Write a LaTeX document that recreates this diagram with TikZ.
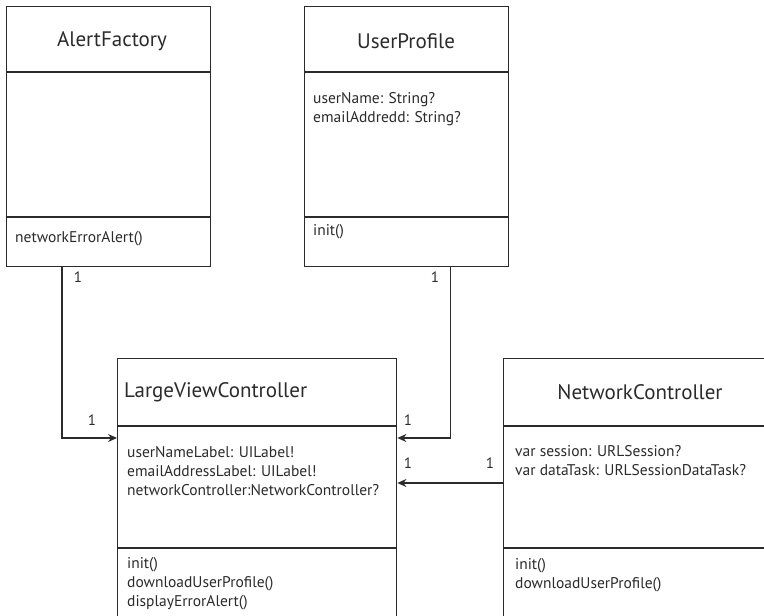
\documentclass[tikz,border=0pt]{standalone}
\usepackage{fontspec}
\setmainfont{PT Sans}
\usetikzlibrary{arrows.meta}
\definecolor{ink}{HTML}{2B2B2B}
\tikzset{
  classbox/.style={draw=ink, line width=1.4pt, rectangle, inner sep=0pt, anchor=north west},
  divider/.style={draw=ink, line width=1.4pt},
  titletext/.style={text=ink, inner sep=0pt, font=\fontsize{21}{24}\selectfont},
  membertext/.style={text=ink, inner sep=0pt, anchor=west, align=left, font=\fontsize{15.5}{19}\selectfont},
  multtext/.style={text=ink, inner sep=0pt, font=\fontsize{15}{17}\selectfont},
  assoc/.style={draw=ink, line width=1.3pt, -{Stealth[length=9pt,width=8pt,inset=3pt]}},
}
\begin{document}
\begin{tikzpicture}[x=1pt,y=-1pt]
\clip (0,0) rectangle (764,616);
\fill[white] (0,0) rectangle (764,616);

% class boxes
\node[classbox, minimum width=204pt, minimum height=260pt] (af) at (6,6) {};
\node[classbox, minimum width=204pt, minimum height=260pt] (up) at (304,6) {};
\node[classbox, minimum width=279pt, minimum height=290pt] (lvc) at (117,358) {};
\node[classbox, minimum width=290pt, minimum height=290pt] (nc) at (503,358) {};

% dividers
\draw[divider] ([yshift=-66pt]af.north west) -- ([yshift=-66pt]af.north east);
\draw[divider] ([yshift=-211pt]af.north west) -- ([yshift=-211pt]af.north east);
\draw[divider] ([yshift=-66pt]up.north west) -- ([yshift=-66pt]up.north east);
\draw[divider] ([yshift=-211pt]up.north west) -- ([yshift=-211pt]up.north east);
\draw[divider] ([yshift=-68pt]lvc.north west) -- ([yshift=-68pt]lvc.north east);
\draw[divider] ([yshift=-190pt]lvc.north west) -- ([yshift=-190pt]lvc.north east);
\draw[divider] ([yshift=-68pt]nc.north west) -- ([yshift=-68pt]nc.north east);
\draw[divider] ([yshift=-190pt]nc.north west) -- ([yshift=-190pt]nc.north east);

% titles
\node[titletext] (aft) at (112,41) {AlertFactory};
\node[titletext] (upt) at (406,41) {UserProfile};
\node[titletext, anchor=west] (lvct) at (124,392) {LargeViewController};
\node[titletext] (nct) at (640,392) {NetworkController};

% members
\node[membertext] (afm) at (15,239) {networkErrorAlert()};
\node[membertext] (upa) at (313,109) {userName: String?\\emailAddredd: String?};
\node[membertext] (upm) at (313,232) {init()};
\node[membertext] (lvca) at (127,471) {userNameLabel: UILabel!\\emailAddressLabel: UILabel!\\networkController:NetworkController?};
\node[membertext] (lvcm) at (127,584) {init()\\downloadUserProfile()\\displayErrorAlert()};
\node[membertext] (nca) at (515,461) {var session: URLSession?\\var dataTask: URLSessionDataTask?};
\node[membertext] (ncm) at (515,575) {init()\\downloadUserProfile()};

% associations
\draw[assoc] ([xshift=56pt]af.south west) |- ([yshift=-80pt]lvc.north west);
\draw[assoc] ([xshift=-59pt]up.south east) |- ([yshift=-80pt]lvc.north east);
\draw[assoc] ([yshift=-125pt]nc.north west) -- ([yshift=-125pt]lvc.north east);

% multiplicities
\node[multtext] (m1) at (78,277) {1};
\node[multtext] (m2) at (92,420) {1};
\node[multtext] (m3) at (435,277) {1};
\node[multtext] (m4) at (408,420) {1};
\node[multtext] (m5) at (408,463) {1};
\node[multtext] (m6) at (490,463) {1};
\end{tikzpicture}
\end{document}
